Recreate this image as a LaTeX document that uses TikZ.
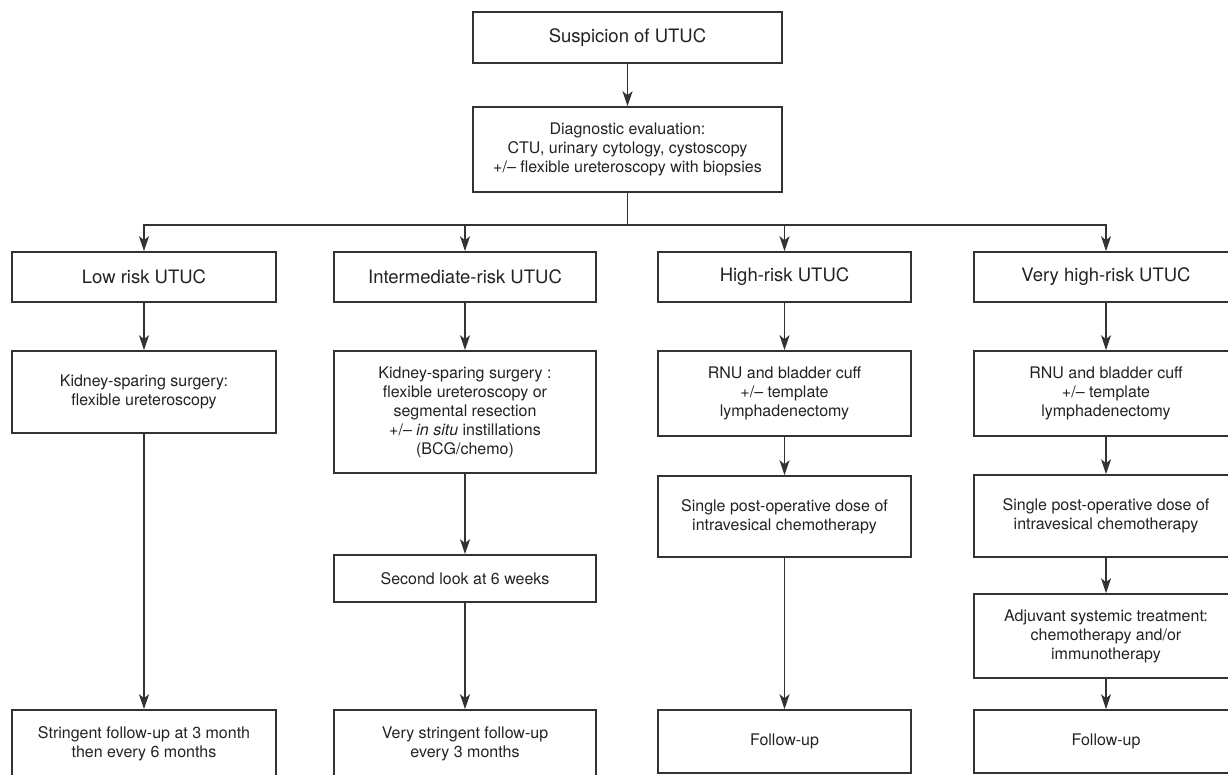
\documentclass[tikz,border=0pt]{standalone}
\usepackage{fontspec}
\setmainfont{TeX Gyre Heros}
\usetikzlibrary{arrows.meta}
\definecolor{linegray}{HTML}{333333}
\definecolor{textgray}{HTML}{222222}

\begin{document}
\begin{tikzpicture}[
    x=1pt, y=-1pt,
    box/.style={rectangle, draw=linegray, line width=1.6pt, align=center, inner sep=0pt, text=textgray, font=\fontsize{16}{19}\selectfont},
    riskbox/.style={box, minimum height=50pt, font=\fontsize{18.5}{22}\selectfont},
    arrow/.style={-{Stealth[length=15pt, width=10pt, inset=4pt]}, line width=1.3pt, draw=linegray}
]
    \clip (0,0) rectangle (1228,775);

    % Suspicion and diagnosis
    \node[box, minimum width=309pt, minimum height=51pt, font=\fontsize{18.5}{22}\selectfont] (susp) at (627.5,37.5) {Suspicion of UTUC};
    \node[box, minimum width=309pt, minimum height=85pt] (diag) at (627.5,149.5) {Diagnostic evaluation:\\CTU, urinary cytology, cystoscopy\\+/\textendash{} flexible ureteroscopy with biopsies};
    \coordinate (split) at (627.5,225);

    % Risk groups
    \node[riskbox, minimum width=264pt] (low) at (144,277) {Low risk UTUC};
    \node[riskbox, minimum width=262pt] (inter) at (465,277) {Intermediate-risk UTUC};
    \node[riskbox, minimum width=253pt] (high) at (784.5,277) {High-risk UTUC};
    \node[riskbox, minimum width=264pt] (vhigh) at (1106,277) {Very high-risk UTUC};

    % Low risk
    \node[box, minimum width=264pt, minimum height=82pt] (lowkss) at (144,392) {Kidney-sparing surgery:\\flexible ureteroscopy};
    \node[box, minimum width=264pt, minimum height=67pt] (lowfu) at (144,743.5) {Stringent follow-up at 3 month\\then every 6 months};

    % Intermediate risk
    \node[box, minimum width=262pt, minimum height=122pt] (interkss) at (465,412) {Kidney-sparing surgery :\\flexible ureteroscopy or\\segmental resection\\+/\textendash{} \textit{in situ} instillations\\(BCG/chemo)};
    \node[box, minimum width=262pt, minimum height=47pt] (second) at (465,578.5) {Second look at 6 weeks};
    \node[box, minimum width=262pt, minimum height=67pt] (interfu) at (465,743.5) {Very stringent follow-up\\every 3 months};

    % High risk
    \node[box, minimum width=253pt, minimum height=85pt] (highrnu) at (784.5,393.5) {RNU and bladder cuff\\+/\textendash{} template\\lymphadenectomy};
    \node[box, minimum width=253pt, minimum height=81pt] (highdose) at (784.5,516.5) {Single post-operative dose of\\intravesical chemotherapy};
    \node[box, minimum width=253pt, minimum height=63pt] (highfu) at (784.5,741.5) {Follow-up};

    % Very high risk
    \node[box, minimum width=264pt, minimum height=85pt] (vhighrnu) at (1106,393.5) {RNU and bladder cuff\\+/\textendash{} template\\lymphadenectomy};
    \node[box, minimum width=264pt, minimum height=82pt] (vhighdose) at (1106,516) {Single post-operative dose of\\intravesical chemotherapy};
    \node[box, minimum width=264pt, minimum height=84pt] (adjuvant) at (1106,636) {Adjuvant systemic treatment:\\chemotherapy and/or\\immunotherapy};
    \node[box, minimum width=264pt, minimum height=63pt] (vhighfu) at (1106,741.5) {Follow-up};

    % Arrows
    \draw[arrow] (susp) -- (diag);
    \draw[line width=1.3pt, draw=linegray] (diag) -- (split);
    \draw[arrow] (split) -| (low);
    \draw[arrow] (split) -| (inter);
    \draw[arrow] (split) -| (high);
    \draw[arrow] (split) -| (vhigh);

    \draw[arrow] (low) -- (lowkss);
    \draw[arrow] (lowkss) -- (lowfu);

    \draw[arrow] (inter) -- (interkss);
    \draw[arrow] (interkss) -- (second);
    \draw[arrow] (second) -- (interfu);

    \draw[arrow] (high) -- (highrnu);
    \draw[arrow] (highrnu) -- (highdose);
    \draw[arrow] (highdose) -- (highfu);

    \draw[arrow] (vhigh) -- (vhighrnu);
    \draw[arrow] (vhighrnu) -- (vhighdose);
    \draw[arrow] (vhighdose) -- (adjuvant);
    \draw[arrow] (adjuvant) -- (vhighfu);
\end{tikzpicture}
\end{document}
